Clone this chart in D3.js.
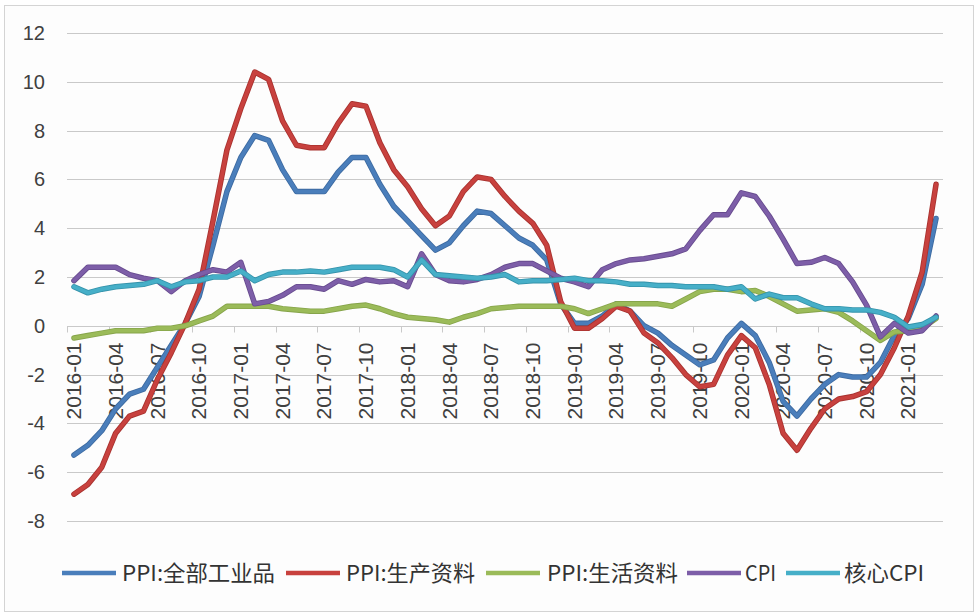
<!DOCTYPE html>
<html>
<head>
<meta charset="utf-8">
<script src="https://cdn.jsdelivr.net/npm/d3@7"></script>
<style>
  body { margin: 0; background: #ffffff; }
  svg { display: block; }
</style>
</head>
<body>
<svg id="chart" width="980" height="616"></svg>
<script>
// months 2016-01 .. 2021-03
var months = [
  "2016-01","2016-02","2016-03","2016-04","2016-05","2016-06","2016-07","2016-08","2016-09","2016-10","2016-11","2016-12",
  "2017-01","2017-02","2017-03","2017-04","2017-05","2017-06","2017-07","2017-08","2017-09","2017-10","2017-11","2017-12",
  "2018-01","2018-02","2018-03","2018-04","2018-05","2018-06","2018-07","2018-08","2018-09","2018-10","2018-11","2018-12",
  "2019-01","2019-02","2019-03","2019-04","2019-05","2019-06","2019-07","2019-08","2019-09","2019-10","2019-11","2019-12",
  "2020-01","2020-02","2020-03","2020-04","2020-05","2020-06","2020-07","2020-08","2020-09","2020-10","2020-11","2020-12",
  "2021-01","2021-02","2021-03"
];

var ppiAll = [
  -5.3,-4.9,-4.3,-3.4,-2.8,-2.6,-1.7,-0.8,0.1,1.2,3.3,5.5,
  6.9,7.8,7.6,6.4,5.5,5.5,5.5,6.3,6.9,6.9,5.8,4.9,
  4.3,3.7,3.1,3.4,4.1,4.7,4.6,4.1,3.6,3.3,2.7,0.9,
  0.1,0.1,0.4,0.9,0.6,0.0,-0.3,-0.8,-1.2,-1.6,-1.4,-0.5,
  0.1,-0.4,-1.5,-3.1,-3.7,-3.0,-2.4,-2.0,-2.1,-2.1,-1.5,-0.4,
  0.3,1.7,4.4
];
var ppiProducer = [
  -6.9,-6.5,-5.8,-4.4,-3.7,-3.5,-2.2,-1.1,0.1,1.5,4.3,7.2,
  8.9,10.4,10.1,8.4,7.4,7.3,7.3,8.3,9.1,9.0,7.5,6.4,
  5.7,4.8,4.1,4.5,5.5,6.1,6.0,5.3,4.7,4.2,3.3,1.0,
  -0.1,-0.1,0.3,0.8,0.6,-0.3,-0.7,-1.3,-2.0,-2.5,-2.4,-1.2,
  -0.4,-0.9,-2.4,-4.4,-5.1,-4.2,-3.4,-3.0,-2.9,-2.7,-2.0,-0.9,
  0.4,2.2,5.8
];
var ppiConsumer = [
  -0.5,-0.4,-0.3,-0.2,-0.2,-0.2,-0.1,-0.1,0.0,0.2,0.4,0.8,
  0.8,0.8,0.8,0.7,0.65,0.6,0.6,0.7,0.8,0.85,0.7,0.5,
  0.35,0.3,0.25,0.15,0.35,0.5,0.7,0.75,0.8,0.8,0.8,0.8,
  0.7,0.5,0.7,0.9,0.9,0.9,0.9,0.8,1.1,1.4,1.5,1.5,
  1.4,1.45,1.2,0.9,0.6,0.65,0.7,0.55,0.2,-0.2,-0.6,-0.25,
  -0.2,-0.1,0.3
];
var cpi = [
  1.85,2.4,2.4,2.4,2.1,1.95,1.85,1.4,1.85,2.1,2.3,2.2,
  2.6,0.9,1.0,1.25,1.6,1.6,1.5,1.85,1.7,1.9,1.8,1.85,
  1.6,2.95,2.1,1.85,1.8,1.9,2.1,2.4,2.55,2.55,2.25,1.95,
  1.8,1.6,2.3,2.55,2.7,2.75,2.85,2.95,3.15,3.9,4.55,4.55,
  5.45,5.3,4.5,3.55,2.55,2.6,2.8,2.55,1.8,0.85,-0.45,0.1,
  -0.3,-0.2,0.4
];
var coreCpi = [
  1.6,1.35,1.5,1.6,1.65,1.7,1.85,1.6,1.8,1.85,2.0,2.0,
  2.25,1.85,2.1,2.2,2.2,2.25,2.2,2.3,2.4,2.4,2.4,2.3,
  2.0,2.7,2.1,2.05,2.0,1.95,2.0,2.1,1.8,1.85,1.85,1.9,
  1.95,1.85,1.85,1.8,1.7,1.7,1.65,1.65,1.6,1.6,1.6,1.5,
  1.6,1.1,1.3,1.15,1.15,0.9,0.7,0.7,0.65,0.65,0.55,0.35,
  -0.05,0.05,0.35
];

var seriesNames = ["PPI:全部工业品", "PPI:生产资料", "PPI:生活资料", "CPI", "核心CPI"];
var seriesData = [ppiAll, ppiProducer, ppiConsumer, cpi, coreCpi];
var colors = ["#4a7ebb", "#c8413e", "#9bbb59", "#7d5ea8", "#46afc8"];
var edges = ["#3d6aa0", "#a8322f", "#86a44a", "#674b8e", "#3592aa"];
var yTicks = [-8, -6, -4, -2, 0, 2, 4, 6, 8, 10, 12];

var svg = d3.select("#chart");

// outer frame
svg.append("rect").attr("x", 4.5).attr("y", 5.5).attr("width", 969).attr("height", 606)
    .attr("fill", "#fdfdfd").attr("stroke", "#d4d4d4");

var x = d3.scaleBand().domain(months).range([67, 943]).paddingInner(0).paddingOuter(0);
var y = d3.scaleLinear().domain([-8, 12]).range([521, 33]);
var half = x.bandwidth() / 2;

// gridlines
svg.append("g").selectAll("line").data(yTicks).join("line")
    .attr("x1", 67).attr("x2", 943)
    .attr("y1", function(d){ return Math.round(y(d)) + 0.5; })
    .attr("y2", function(d){ return Math.round(y(d)) + 0.5; })
    .attr("stroke", "#c9c9c9").attr("stroke-width", 1);

// y labels
svg.append("g").selectAll("text").data(yTicks).join("text")
    .attr("x", 45).attr("y", function(d){ return y(d); })
    .attr("dy", "0.35em").attr("text-anchor", "end")
    .style("font-family", "'Liberation Sans', Arial, sans-serif").style("font-size", "20px")
    .style("fill", "#404040")
    .text(function(d){ return d; });

// x ticks at band boundaries, every 3 months
var every3 = months.filter(function(d, i){ return i % 3 === 0; });
var y0 = Math.round(y(0)) + 0.5;
svg.append("g").selectAll("line").data(every3).join("line")
    .attr("x1", function(d){ return Math.round(x(d)) + 0.5; })
    .attr("x2", function(d){ return Math.round(x(d)) + 0.5; })
    .attr("y1", y0).attr("y2", y0 + 6)
    .attr("stroke", "#c9c9c9");

// x labels, rotated
svg.append("g").selectAll("text").data(every3).join("text")
    .attr("transform", function(d){ return "translate(" + (x(d) + half) + "," + (y0 + 16) + ") rotate(-90)"; })
    .attr("dy", "0.36em").attr("text-anchor", "end")
    .attr("textLength", 77).attr("lengthAdjust", "spacingAndGlyphs")
    .style("font-family", "'Liberation Sans', Arial, sans-serif").style("font-size", "20px")
    .style("fill", "#404040")
    .text(function(d){ return d; });

// lines
var line = d3.line()
    .x(function(d, i){ return x(months[i]) + half; })
    .y(function(d){ return y(d); });

seriesData.forEach(function(values, k){
    svg.append("path").datum(values).attr("d", line)
        .attr("fill", "none").attr("stroke", edges[k]).attr("stroke-width", 5.5)
        .attr("stroke-linejoin", "round").attr("stroke-linecap", "round");
    svg.append("path").datum(values).attr("d", line)
        .attr("fill", "none").attr("stroke", colors[k]).attr("stroke-width", 3.8)
        .attr("stroke-linejoin", "round").attr("stroke-linecap", "round");
});

// legend
var legendSwatch = [62, 286, 486, 687, 786];
var legendTextX = [122, 346, 547, 745, 844];
var legendTextW = [153, 129, 131, 31, 80];
var legendY = 573;
var legend = svg.append("g");
seriesNames.forEach(function(name, k){
    legend.append("line")
        .attr("x1", legendSwatch[k]).attr("x2", legendSwatch[k] + 54)
        .attr("y1", legendY).attr("y2", legendY)
        .attr("stroke", colors[k]).attr("stroke-width", 4.5);
    legend.append("text")
        .attr("x", legendTextX[k]).attr("y", legendY).attr("dy", "0.36em")
        .attr("textLength", legendTextW[k]).attr("lengthAdjust", "spacingAndGlyphs")
        .style("font-family", "'Noto Sans CJK SC', sans-serif").style("font-size", "22px")
        .style("fill", "#333333")
        .text(name);
});
</script>
</body>
</html>
